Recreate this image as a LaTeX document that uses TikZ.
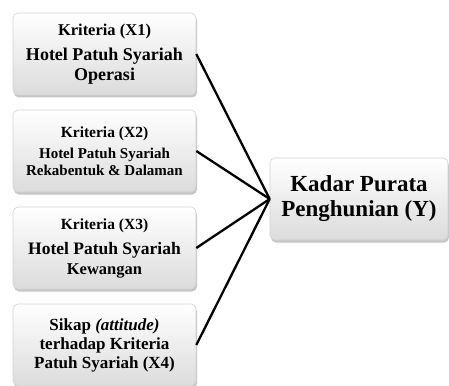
\documentclass[tikz,border=0pt]{standalone}
\usepackage{fontspec}
\setmainfont{Liberation Serif}
\usetikzlibrary{shadows}
\newcommand{\fs}[2]{\fontsize{#1}{#2}\selectfont}
\begin{document}
\begin{tikzpicture}[x=1pt,y=-1pt,
  box/.style={draw=gray!35, line width=0.6pt, rounded corners=5pt, top color=white, bottom color=gray!28,
    drop shadow={shadow xshift=1pt, shadow yshift=-2.5pt, opacity=0.45},
    minimum width=183pt, minimum height=82pt, align=center, inner sep=1pt},
  link/.style={line width=2.3pt, black}]
\useasboundingbox (0,0) rectangle (449,385);
\node[box, font=\bfseries\fs{18}{20}] (x1) at (104.5,54) {\fs{16.5}{20}Kriteria (X1)\\[5pt]Hotel Patuh Syariah\\Operasi};
\node[box, font=\bfseries\fs{15}{17}] (x2) at (104.5,151) {\fs{15.5}{17}Kriteria (X2)\\[4pt]Hotel Patuh Syariah\\Rekabentuk \& Dalaman};
\node[box, font=\bfseries\fs{17.5}{20}] (x3) at (104.5,248) {\fs{15.5}{20}Kriteria (X3)\\[5pt]Hotel Patuh Syariah\\\fs{16.5}{20}Kewangan};
\node[box, font=\bfseries\fs{17}{19}] (x4) at (104.5,345) {Sikap \textit{(attitude)}\\terhadap Kriteria\\Patuh Syariah (X4)};
\node[box, minimum width=178pt, font=\bfseries\fs{23}{25}] (y) at (359,199) {Kadar Purata\\Penghunian (Y)};
\draw[link] (x1.east) -- (y.west);
\draw[link] (x2.east) -- (y.west);
\draw[link] (x3.east) -- (y.west);
\draw[link] (x4.east) -- (y.west);
\end{tikzpicture}
\end{document}
